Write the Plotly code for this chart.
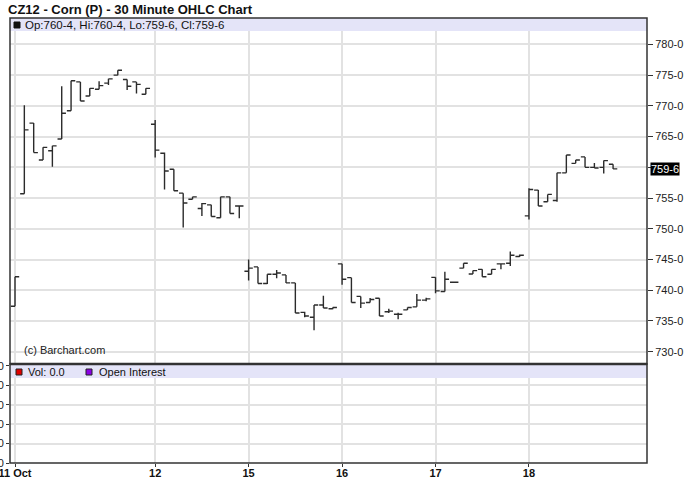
import plotly.graph_objects as go

# ---------------- data ----------------
bar_index = list(range(65))
open_ = [737.4, 755.7, 767.2, 761.2, 762.7, 764.6, 769.2, 773.9, 771.6, 772.7,
         773.7, 775.0, 774.3, 773.9, 771.9,
         767.0, 762.3, 759.7, 755.8, 754.8, 753.3, 753.9, 751.8, 755.2, 753.7,
         743.1, 743.8, 741.1, 742.6, 742.5, 741.2, 736.4, 735.6, 737.6, 737.0,
         744.3, 742.05, 739.0, 738.0, 738.7, 736.5, 736.1, 736.8, 737.3, 738.4,
         742.1, 739.8, 741.3, 743.6, 742.65, 743.4, 742.6, 744.3, 744.4, 745.5,
         752.1, 756.3, 754.4, 754.6, 759.1, 760.65, 761.7, 760.0, 760.0, 760.5]
high = [742.2, 770.1, 767.2, 763.25, 763.5, 773.2, 774.1, 773.9, 772.85, 774.0,
        774.4, 775.8, 774.3, 773.9, 772.85,
        767.7, 762.4, 759.7, 755.8, 755.2, 754.2, 753.9, 755.2, 755.2, 753.7,
        745.0, 743.8, 742.6, 743.3, 742.5, 741.2, 736.5, 737.6, 739.1, 737.2,
        744.3, 742.05, 739.0, 738.75, 738.7, 737.0, 736.35, 737.2, 739.4, 738.8,
        742.1, 743.0, 741.3, 744.4, 743.2, 743.4, 743.4, 744.3, 746.3, 745.8,
        756.6, 756.3, 755.6, 759.1, 762.0, 761.2, 761.7, 760.7, 761.1, 760.5]
low = [737.4, 755.7, 762.4, 761.2, 760.1, 764.6, 769.2, 770.8, 771.6, 772.7,
       773.4, 775.0, 772.6, 772.0, 771.9,
       761.6, 756.4, 756.2, 750.2, 754.8, 752.1, 752.0, 751.8, 752.5, 751.7,
       741.6, 741.1, 741.0, 741.95, 741.2, 736.3, 735.6, 733.5, 737.1, 736.9,
       740.9, 738.0, 737.1, 738.0, 735.8, 736.3, 735.3, 736.8, 737.3, 738.2,
       739.5, 739.8, 741.3, 743.6, 742.65, 742.2, 742.6, 743.4, 743.95, 745.4,
       751.5, 753.7, 754.4, 754.4, 759.1, 760.65, 760.0, 759.9, 759.0, 759.75]
close = [742.2, 766.1, 762.4, 763.25, 763.5, 768.8, 774.1, 770.8, 772.85, 773.3,
         774.4, 775.8, 773.2, 773.5, 772.85,
         762.8, 759.4, 756.2, 754.2, 755.2, 754.1, 752.0, 755.2, 752.5, 753.7,
         743.6, 741.1, 742.6, 742.8, 741.2, 736.3, 735.8, 737.6, 737.1, 737.2,
         741.8, 738.0, 737.9, 738.5, 735.8, 736.6, 736.1, 737.2, 738.4, 738.6,
         739.9, 741.8, 741.3, 744.4, 743.2, 742.2, 743.4, 744.3, 745.7, 745.7,
         756.4, 753.7, 755.6, 759.1, 762.0, 761.2, 760.0, 759.9, 761.1, 759.75]

day_tick_index = [0, 15, 25, 35, 45, 55]
day_tick_labels = ["11 Oct", "12", "15", "16", "17", "18"]
price_ticks = [730, 735, 740, 745, 750, 755, 760, 765, 770, 775, 780]
volume_ticks = [0, 20, 40, 60, 80, 100]

# ---------------- helpers ----------------
W, H = 688, 503
L, R, T, B = 10, 647, 18, 463


def px_x(px):
    return (px - L) / (R - L)


def px_y(py):
    return (B - py) / (B - T)


def fmt(p):
    whole = int(p)
    eighths = int(round((p - whole) * 8))
    return f"{whole}-{eighths}"


FONT = "Liberation Sans, Arial, sans-serif"
split = px_y(364)

fig = go.Figure()
fig.add_trace(go.Ohlc(
    x=bar_index, open=open_, high=high, low=low, close=close,
    increasing=dict(line=dict(color="#2b2b2b", width=1.4)),
    decreasing=dict(line=dict(color="#2b2b2b", width=1.4)),
    tickwidth=0.45, xaxis="x", yaxis="y", hoverinfo="skip", showlegend=False,
))
fig.add_trace(go.Scatter(x=[], y=[], xaxis="x2", yaxis="y2", showlegend=False))

grid = "#e2e2e2"
xr = [-0.535, 67.63]
price_text = ["" if abs(v - close[-1]) < 2.5 else fmt(v) for v in price_ticks]

fig.update_layout(
    width=W, height=H,
    margin=dict(l=L, r=W - R, t=T, b=H - B, pad=0),
    paper_bgcolor="white", plot_bgcolor="white",
    font=dict(family=FONT, size=11, color="#222"),
    showlegend=False,
    title=dict(text="<b>CZ12 - Corn (P) - 30 Minute OHLC Chart</b>",
               x=8 / W, xanchor="left", xref="container",
               y=1 - 9 / H, yanchor="middle", yref="container",
               font=dict(family=FONT, size=13, color="#111")),
    xaxis=dict(domain=[0, 1], anchor="y", range=xr, rangeslider=dict(visible=False),
               tickvals=day_tick_index, showticklabels=False, ticks="",
               showgrid=True, gridcolor=grid, gridwidth=1.5, zeroline=False,
               automargin=False),
    yaxis=dict(domain=[split, 1], anchor="x", side="right", range=[728.0, 784.3],
               tickvals=price_ticks, ticktext=price_text,
               ticks="outside", ticklen=5, tickcolor="#333", tickwidth=1,
               showgrid=True, gridcolor=grid, gridwidth=1.5, zeroline=False,
               tickfont=dict(size=11, color="#222"), automargin=False),
    xaxis2=dict(domain=[0, 1], anchor="y2", range=xr, matches="x",
                tickvals=day_tick_index, ticktext=[f"<b>{t}</b>" for t in day_tick_labels],
                ticks="outside", ticklen=3, tickcolor="#333", ticklabeloverflow="allow",
                ticklabelstandoff=-3,
                showgrid=True, gridcolor=grid, gridwidth=1.5, zeroline=False,
                tickfont=dict(size=11, color="#111"), automargin=False),
    yaxis2=dict(domain=[0, split], anchor="x2", side="left", range=[0, 102],
                tickvals=volume_ticks, ticks="outside", ticklen=3, tickcolor="#333",
                ticklabeloverflow="allow",
                showgrid=True, gridcolor=grid, gridwidth=1.5, zeroline=False,
                tickfont=dict(size=11, color="#222"), automargin=False),
)

shapes = []
# header bands
shapes.append(dict(type="rect", xref="paper", yref="paper", x0=0, x1=1,
                   y0=px_y(31), y1=1, fillcolor="#e4e4f8", line=dict(width=0), layer="above"))
shapes.append(dict(type="rect", xref="paper", yref="paper", x0=0, x1=1,
                   y0=px_y(378), y1=px_y(365), fillcolor="#e4e4f8", line=dict(width=0), layer="above"))
# panel borders
shapes.append(dict(type="rect", xref="x domain", yref="y domain", x0=0, x1=1, y0=0, y1=1,
                   line=dict(color="#333", width=1.5), layer="above"))
shapes.append(dict(type="rect", xref="x2 domain", yref="y2 domain", x0=0, x1=1, y0=0, y1=1,
                   line=dict(color="#333", width=1.5), layer="above"))
shapes.append(dict(type="line", xref="paper", yref="paper", x0=0, x1=1, y0=split, y1=split,
                   line=dict(color="#333", width=2.5), layer="above"))
# legend squares
shapes.append(dict(type="rect", xref="paper", yref="paper", x0=px_x(14), x1=px_x(20),
                   y0=px_y(28), y1=px_y(22), fillcolor="#111", line=dict(color="#111", width=1), layer="above"))
shapes.append(dict(type="rect", xref="paper", yref="paper", x0=px_x(16), x1=px_x(22),
                   y0=px_y(375), y1=px_y(369), fillcolor="#e00000", line=dict(color="#222", width=1), layer="above"))
shapes.append(dict(type="rect", xref="paper", yref="paper", x0=px_x(86), x1=px_x(92),
                   y0=px_y(375), y1=px_y(369), fillcolor="#8a00e6", line=dict(color="#222", width=1), layer="above"))
fig.update_layout(shapes=shapes)

header = f"Op:{fmt(open_[-1])}, Hi:{fmt(high[-1])}, Lo:{fmt(low[-1])}, Cl:{fmt(close[-1])}"
ann = [
    dict(text=header, xref="paper", yref="paper", x=px_x(23), y=px_y(25),
         xanchor="left", yanchor="middle", showarrow=False, font=dict(size=11.5, color="#111")),
    dict(text="Vol: 0.0", xref="paper", yref="paper", x=px_x(26), y=px_y(372),
         xanchor="left", yanchor="middle", showarrow=False, font=dict(size=11, color="#111")),
    dict(text="Open Interest", xref="paper", yref="paper", x=px_x(97), y=px_y(372),
         xanchor="left", yanchor="middle", showarrow=False, font=dict(size=11, color="#111")),
    dict(text="(c) Barchart.com", xref="paper", yref="paper", x=px_x(22), y=px_y(350),
         xanchor="left", yanchor="middle", showarrow=False, font=dict(size=11, color="#222")),
    dict(text=fmt(close[-1]), xref="paper", yref="y", x=1, y=close[-1], xshift=3,
         xanchor="left", yanchor="middle", showarrow=False, bgcolor="#000",
         borderpad=0, font=dict(size=11, color="#fff")),
]
fig.update_layout(annotations=ann)

# the page body has a default 8px margin; remove it so the figure fills the window
fig.write_html("out.html", config={"displayModeBar": False},
               post_script="document.body.style.margin='0px';")
